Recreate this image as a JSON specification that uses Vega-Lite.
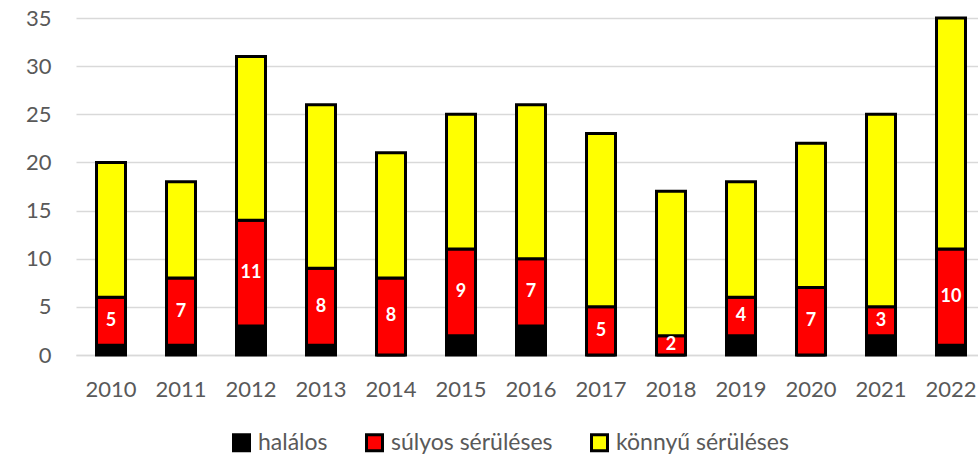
{
  "$schema": "https://vega.github.io/schema/vega-lite/v6.json",
  "autosize": "none",
  "padding": {"left": 76, "top": 18, "right": 0, "bottom": 102},
  "width": 910,
  "height": 337,
  "background": "white",
  "config": {
    "view": {"stroke": null},
    "font": "Lato",
    "axis": {"labelFont": "Lato", "labelFontSize": 22, "labelColor": "#595959"}
  },
  "data": {
    "values": [
      {"year": "2010", "cat": "halálos", "order": 1, "value": 1},
      {"year": "2010", "cat": "súlyos sérüléses", "order": 2, "value": 5},
      {"year": "2010", "cat": "könnyű sérüléses", "order": 3, "value": 14},
      {"year": "2011", "cat": "halálos", "order": 1, "value": 1},
      {"year": "2011", "cat": "súlyos sérüléses", "order": 2, "value": 7},
      {"year": "2011", "cat": "könnyű sérüléses", "order": 3, "value": 10},
      {"year": "2012", "cat": "halálos", "order": 1, "value": 3},
      {"year": "2012", "cat": "súlyos sérüléses", "order": 2, "value": 11},
      {"year": "2012", "cat": "könnyű sérüléses", "order": 3, "value": 17},
      {"year": "2013", "cat": "halálos", "order": 1, "value": 1},
      {"year": "2013", "cat": "súlyos sérüléses", "order": 2, "value": 8},
      {"year": "2013", "cat": "könnyű sérüléses", "order": 3, "value": 17},
      {"year": "2014", "cat": "halálos", "order": 1, "value": 0},
      {"year": "2014", "cat": "súlyos sérüléses", "order": 2, "value": 8},
      {"year": "2014", "cat": "könnyű sérüléses", "order": 3, "value": 13},
      {"year": "2015", "cat": "halálos", "order": 1, "value": 2},
      {"year": "2015", "cat": "súlyos sérüléses", "order": 2, "value": 9},
      {"year": "2015", "cat": "könnyű sérüléses", "order": 3, "value": 14},
      {"year": "2016", "cat": "halálos", "order": 1, "value": 3},
      {"year": "2016", "cat": "súlyos sérüléses", "order": 2, "value": 7},
      {"year": "2016", "cat": "könnyű sérüléses", "order": 3, "value": 16},
      {"year": "2017", "cat": "halálos", "order": 1, "value": 0},
      {"year": "2017", "cat": "súlyos sérüléses", "order": 2, "value": 5},
      {"year": "2017", "cat": "könnyű sérüléses", "order": 3, "value": 18},
      {"year": "2018", "cat": "halálos", "order": 1, "value": 0},
      {"year": "2018", "cat": "súlyos sérüléses", "order": 2, "value": 2},
      {"year": "2018", "cat": "könnyű sérüléses", "order": 3, "value": 15},
      {"year": "2019", "cat": "halálos", "order": 1, "value": 2},
      {"year": "2019", "cat": "súlyos sérüléses", "order": 2, "value": 4},
      {"year": "2019", "cat": "könnyű sérüléses", "order": 3, "value": 12},
      {"year": "2020", "cat": "halálos", "order": 1, "value": 0},
      {"year": "2020", "cat": "súlyos sérüléses", "order": 2, "value": 7},
      {"year": "2020", "cat": "könnyű sérüléses", "order": 3, "value": 15},
      {"year": "2021", "cat": "halálos", "order": 1, "value": 2},
      {"year": "2021", "cat": "súlyos sérüléses", "order": 2, "value": 3},
      {"year": "2021", "cat": "könnyű sérüléses", "order": 3, "value": 20},
      {"year": "2022", "cat": "halálos", "order": 1, "value": 1},
      {"year": "2022", "cat": "súlyos sérüléses", "order": 2, "value": 10},
      {"year": "2022", "cat": "könnyű sérüléses", "order": 3, "value": 24}
    ]
  },
  "transform": [
    {"stack": "value", "groupby": ["year"], "sort": [{"field": "order", "order": "ascending"}], "as": ["v0", "v1"]}
  ],
  "encoding": {
    "x": {
      "field": "year", "type": "nominal", "title": null,
      "scale": {"paddingInner": 0.54, "paddingOuter": 0.27},
      "axis": {"labelAngle": 0, "ticks": false, "domainColor": "#d9d9d9", "domainWidth": 1.5, "labelPadding": 24, "grid": false}
    }
  },
  "layer": [
    {
      "mark": {"type": "bar", "stroke": "black", "strokeWidth": 3, "size": 29},
      "encoding": {
        "y": {
          "field": "v0", "type": "quantitative", "title": null,
          "scale": {"domain": [0, 35], "nice": false},
          "axis": {"values": [0, 5, 10, 15, 20, 25, 30, 35], "ticks": false, "domain": false, "gridColor": "#d9d9d9", "gridWidth": 1.5, "labelPadding": 25}
        },
        "y2": {"field": "v1"},
        "color": {
          "field": "cat", "type": "nominal",
          "scale": {"domain": ["halálos", "súlyos sérüléses", "könnyű sérüléses"], "range": ["#000000", "#ff0000", "#ffff00"]},
          "legend": {
            "title": null, "orient": "none", "direction": "horizontal",
            "legendX": 154, "legendY": 413,
            "symbolType": "square", "symbolSize": 256, "symbolStrokeColor": "black", "symbolStrokeWidth": 3,
            "labelFont": "Lato", "labelFontSize": 23, "labelColor": "#595959", "labelLimit": 400,
            "columnPadding": 32, "labelOffset": 5, "symbolOpacity": 1
          }
        }
      }
    },
    {
      "transform": [
        {"filter": "datum.cat === 'súlyos sérüléses'"},
        {"calculate": "(datum.v0 + datum.v1) / 2", "as": "mid"}
      ],
      "mark": {"type": "text", "color": "white", "fontWeight": "bold", "fontSize": 18, "font": "Lato", "baseline": "middle"},
      "encoding": {
        "y": {"field": "mid", "type": "quantitative"},
        "text": {"field": "value", "type": "quantitative"}
      }
    }
  ]
}
